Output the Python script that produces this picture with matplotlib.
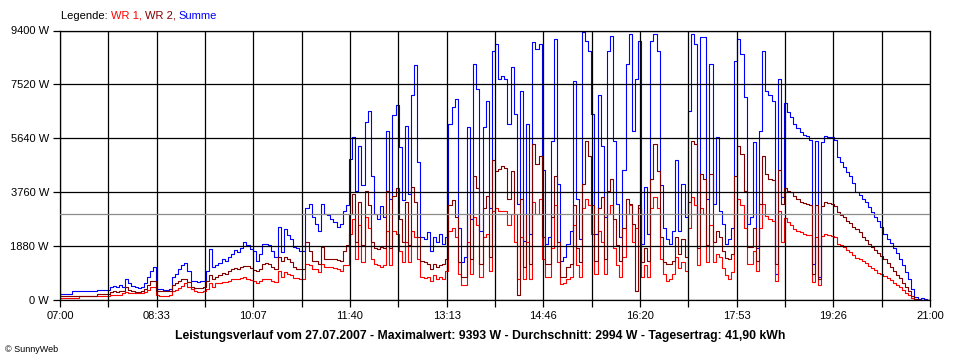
import matplotlib
matplotlib.use("Agg")
import matplotlib.pyplot as plt
import numpy as np

plt.rcParams['font.family'] = ['Liberation Sans', 'DejaVu Sans']

# Messwerte alle 3 Minuten ab 07:00 (W)
wr1 = [60, 60, 60, 60, 60, 60, 105, 105, 105, 105,
       105, 105, 105, 105, 105, 105, 140, 150, 140, 160,
       220, 250, 230, 220, 210, 210, 220, 250, 330, 420,
       430, 140, 130, 120, 120, 140, 290, 340, 400, 460,
       560, 450, 380, 280, 270, 260, 280, 350, 560, 450,
       560, 580, 620, 600, 650, 700, 720, 700, 760, 800,
       720, 680, 660, 560, 640, 730, 730, 720, 660, 600,
       1010, 800, 950, 880, 840, 760, 740, 730, 730, 1250,
       1200, 1070, 1070, 960, 1250, 1130, 1130, 1130, 1100, 1050,
       1010, 1190, 1200, 2300, 2800, 1400, 2600, 1300, 2900, 2500,
       1400, 1250, 1200, 1150, 1200, 2400, 1200, 2400, 2300, 1700,
       1300, 2000, 1300, 2400, 2200, 1400, 800, 760, 780, 660,
       840, 720, 780, 720, 1010, 2400, 2500, 2200, 900, 500,
       520, 2000, 900, 2900, 2600, 800, 2200, 2300, 1000, 3100,
       3200, 3100, 3100, 3100, 2600, 3000, 2000, 700, 2200, 720,
       2000, 700, 3400, 3000, 3500, 1400, 780, 780, 1800, 3300,
       1300, 545, 560, 700, 780, 2600, 1200, 800, 3200, 3500,
       3300, 2300, 900, 2400, 2000, 900, 3000, 3300, 1800, 1200,
       800, 1500, 3000, 3300, 2000, 2500, 3200, 780, 1200, 800,
       3200, 3570, 3200, 1400, 900, 660, 700, 900, 1500, 1100,
       1300, 1000, 2500, 3570, 3300, 1200, 3200, 3000, 1300, 2600,
       1300, 1600, 1480, 1100, 850, 720, 950, 3000, 3500, 3300,
       2500, 1250, 1250, 1700, 1010, 2500, 3340, 2930, 2820, 2760,
       660, 3110, 2000, 2850, 2700, 2590, 2470, 2410, 2350, 2290,
       2270, 2240, 600, 2200, 500, 2235, 2290, 2270, 2235, 2175,
       1940, 1890, 1830, 1740, 1660, 1560, 1460, 1400, 1330, 1270,
       1180, 1110, 1020, 940, 890, 830, 750, 670, 590, 510,
       420, 330, 240, 140, 40, 0, 0, 0, 0, 0, 0]

wr2 = [115, 115, 115, 115, 115, 115, 115, 115, 115, 115,
       115, 115, 175, 175, 175, 175, 260, 300, 270, 300,
       290, 420, 330, 290, 270, 260, 300, 350, 500, 640,
       660, 310, 300, 290, 290, 310, 500, 560, 650, 720,
       730, 600, 430, 400, 400, 410, 420, 650, 840, 700,
       780, 850, 940, 900, 980, 1050, 1100, 1050, 1120, 1180,
       1180, 1100, 1040, 1010, 1050, 1250, 1280, 1250, 1150, 1050,
       1480, 1360, 1480, 1400, 1300, 1130, 1080, 1070, 1070, 2000,
       1700, 1360, 1360, 1250, 1830, 1430, 1430, 1430, 1400, 1380,
       1360, 1710, 1900, 3000, 3700, 2000, 3400, 1900, 3800, 3300,
       2000, 1800, 1750, 1830, 1800, 3800, 1800, 3600, 3900, 2800,
       2000, 3400, 1900, 3920, 3400, 2200, 1360, 1300, 1245, 1070,
       1245, 1130, 1190, 1245, 1400, 3300, 3460, 2880, 1300, 780,
       800, 3000, 1400, 4300, 3900, 1250, 3200, 3600, 1500, 4860,
       4500, 4550, 4650, 4600, 3500, 4500, 3000, 150, 3500, 1130,
       3000, 1245, 5440, 4740, 5000, 2200, 1250, 1250, 2900, 4300,
       2000, 780, 800, 1130, 1250, 3300, 1800, 1300, 4040, 5550,
       5000, 3300, 1360, 3200, 3570, 1400, 3800, 4200, 2800, 1900,
       1360, 2500, 3500, 3340, 2640, 300, 3300, 1300, 1800, 1360,
       4200, 5440, 4500, 2200, 1300, 1245, 1245, 1360, 2200, 1600,
       2100, 1500, 3400, 5550, 5440, 1800, 4390, 4200, 1900, 4390,
       2000, 2400, 2180, 1700, 1450, 1420, 1600, 4300, 5380, 5090,
       3800, 1830, 1830, 2500, 1360, 3340, 5030, 4390, 4210, 4160,
       1245, 4510, 3340, 3900, 3800, 3750, 3630, 3520, 3420, 3360,
       3340, 3300, 900, 3300, 700, 3280, 3400, 3370, 3340, 3280,
       3050, 2960, 2870, 2760, 2660, 2540, 2450, 2350, 2200, 2070,
       1950, 1850, 1740, 1640, 1530, 1410, 1280, 1150, 1010, 870,
       740, 580, 440, 310, 120, 10, 0, 0, 0, 0, 0]

summe = [200, 200, 200, 200, 280, 280, 280, 280, 280, 280,
         280, 280, 340, 340, 340, 340, 430, 480, 440, 490,
         450, 730, 560, 480, 430, 400, 450, 560, 800, 1000,
         1120, 380, 360, 340, 330, 380, 770, 900, 1050, 1200,
         1260, 980, 660, 640, 620, 630, 660, 1000, 1780, 1120,
         1200, 1280, 1400, 1340, 1470, 1600, 1720, 1650, 1810, 2000,
         1900, 1780, 1700, 1360, 1600, 1950, 1950, 1900, 1700, 1500,
         2530, 1650, 2480, 2270, 2100, 1830, 1800, 1710, 1700, 3200,
         3350, 2900, 2650, 2410, 3350, 3000, 2950, 2830, 2700, 2550,
         2650, 3110, 3300, 4900, 5670, 3800, 5380, 4000, 6200, 6600,
         4300, 3000, 2800, 3280, 2900, 5900, 3500, 6430, 6780, 5320,
         3460, 6080, 3690, 7130, 8180, 4800, 2200, 2100, 2350, 1710,
         2180, 2000, 2290, 1940, 2180, 6140, 6720, 7010, 2500, 1300,
         1500, 6020, 2800, 8235, 7360, 2400, 6020, 6950, 3200, 8700,
         8930, 7700, 7800, 7700, 6140, 8120, 6490, 3340, 7300, 2060,
         6140, 2300, 8990, 8760, 8930, 4510, 1940, 2200, 5550, 9110,
         4040, 1360, 1480, 1940, 2410, 7650, 3500, 2100, 9340, 9050,
         8700, 6490, 2300, 7130, 5380, 2880, 8700, 9225, 5550, 3340,
         2180, 4510, 8235, 9280, 5900, 7710, 9050, 1940, 3920, 2300,
         9050, 9280, 8700, 4000, 2500, 2100, 1940, 2410, 4860, 2400,
         4040, 2880, 6600, 9280, 8930, 3000, 9170, 9170, 3500, 8235,
         3340, 5670, 3110, 2640, 1950, 2100, 2500, 8350, 9110, 8580,
         7070, 2640, 2900, 5500, 1800, 5900, 8700, 7300, 7130, 6950,
         900, 7710, 3570, 6850, 6550, 6370, 6140, 6000, 5850, 5750,
         5700, 5560, 1245, 5550, 780, 5500, 5730, 5670, 5670, 5560,
         4970, 4800, 4620, 4450, 4300, 4080, 3760, 3650, 3500, 3400,
         3220, 3060, 2900, 2740, 2520, 2280, 2120, 1960, 1800, 1640,
         1430, 1190, 950, 700, 350, 100, 20, 60, 20, 0, 0]

durchschnitt = 2994
y_ticks = [0, 1880, 3760, 5640, 7520, 9400]
x_labels = ['07:00', '08:33', '10:07', '11:40', '13:13', '14:46',
            '16:20', '17:53', '19:26', '21:00']
titel = ("Leistungsverlauf vom 27.07.2007 - Maximalwert: 9393 W - "
         "Durchschnitt: 2994 W - Tagesertrag: 41,90 kWh")

minutes = np.arange(len(summe)) * 3

fig = plt.figure(figsize=(9.6, 3.6), dpi=100)
ax = fig.add_axes([60 / 960, 1 - 299.5 / 360, 870 / 960, 269 / 360])

# Treppenlinien wie im Original
ax.step(minutes, summe, where='post', color='#0000ff', lw=0.8, zorder=2)
ax.step(minutes, wr1, where='post', color='#ff0000', lw=0.8, zorder=2)
ax.step(minutes, wr2, where='post', color='#800000', lw=0.8, zorder=2)
ax.axhline(durchschnitt, color='#8c8c8c', lw=0.9, zorder=3)

ax.set_xlim(0, 840)
ax.set_ylim(0, 9400)
xt = np.linspace(0, 840, 19)
ax.set_xticks(xt)
ax.set_xticklabels([x_labels[k // 2] if k % 2 == 0 else '' for k in range(19)])
ax.set_yticks(y_ticks)
ax.set_yticklabels([f"{v} W" for v in y_ticks])

ax.set_axisbelow(False)
ax.grid(True, color='black', lw=0.9)
ax.tick_params(direction='out', length=5, width=0.9, labelsize=8, pad=3)
for s in ax.spines.values():
    s.set_linewidth(0.9)

# Legende oben links, mehrfarbig
renderer = fig.canvas.get_renderer()
x0 = 61 / 960
for txt, col in [("Legende: ", 'black'), ("WR 1, ", '#ff0000'),
                 ("WR 2, ", '#800000'), ("Summe", '#0000ff')]:
    t = fig.text(x0, 1 - 16 / 360, txt, color=col, fontsize=8, va='center')
    bb = t.get_window_extent(renderer)
    x0 = bb.x1 / fig.bbox.width

fig.text(0.5, 1 - 336 / 360, titel, ha='center', va='center', fontsize=8.8,
         fontweight='bold')
fig.text(5 / 960, 1 - 349 / 360, "\u00a9 SunnyWeb", fontsize=6.5, va='center')

fig.savefig('out.png', dpi=100)
